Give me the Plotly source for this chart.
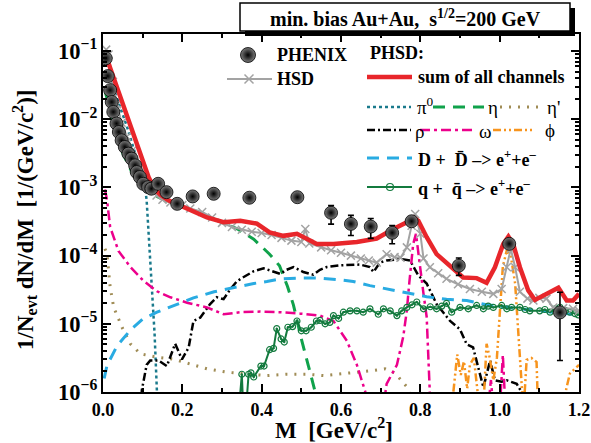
import plotly.graph_objects as go

# ---------------- data ----------------
phenix_x = [0.007, 0.012, 0.018, 0.022, 0.026, 0.034, 0.040, 0.047, 0.055, 0.064, 0.072, 0.081,
            0.085, 0.093, 0.1015, 0.114, 0.122, 0.139, 0.160, 0.187, 0.226, 0.279, 0.369, 0.490,
            0.575, 0.625, 0.675, 0.729, 0.778, 0.897, 1.024, 1.152]
phenix_y = [0.0782, 0.0429, 0.0267, 0.0179, 0.0128, 0.00865, 0.0065, 0.00491, 0.00392, 0.00313,
            0.00264, 0.00211, 0.00168, 0.00142, 0.00113, 0.00101, 0.000957, 0.00113, 0.000853,
            0.000575, 0.000738, 0.000807, 0.000706, 0.000719, 0.000425, 0.000292, 0.000267,
            0.000216, 0.000319, 0.0000713, 0.000149, 0.0000147]
phenix_err_plus = [0]*24 + [1.16e-4, 0.97e-4, 0.83e-4, 0.60e-4, 0, 2.1e-5, 0, 1.43e-5]
phenix_err_minus = [0]*24 + [1.35e-4, 0.95e-4, 0.88e-4, 0.67e-4, 0, 2.0e-5, 0, 1.18e-5]

hsd_x = [0.008, 0.014, 0.025, 0.035, 0.047, 0.060, 0.075, 0.090, 0.100, 0.110, 0.120, 0.135, 0.150,
         0.170, 0.200, 0.220, 0.250, 0.275, 0.300, 0.325, 0.350, 0.375, 0.400, 0.425, 0.450, 0.475,
         0.500, 0.510, 0.520, 0.550, 0.575, 0.600, 0.625, 0.650, 0.670, 0.690, 0.715, 0.735, 0.750,
         0.766, 0.778, 0.787, 0.800, 0.808, 0.824, 0.845, 0.866, 0.895, 0.925, 0.955, 0.984, 1.005,
         1.018, 1.028, 1.039, 1.051, 1.070, 1.085, 1.100, 1.118, 1.135, 1.160, 1.185, 1.200]
hsd_y = [1.05e-1, 8.9e-2, 3.55e-2, 1.66e-2, 8.9e-3, 5.6e-3, 3.55e-3, 2.24e-3, 1.66e-3, 1.2e-3, 9.3e-4,
         7.6e-4, 6.6e-4, 6.0e-4, 5.5e-4, 4.9e-4, 4.37e-4, 3.63e-4, 3.02e-4, 2.63e-4, 2.4e-4, 2.24e-4,
         2.14e-4, 2.0e-4, 1.82e-4, 1.66e-4, 1.585e-4, 2.45e-4, 1.51e-4, 1.32e-4, 1.2e-4, 1.1e-4, 1.0e-4,
         9.1e-5, 8.5e-5, 7.9e-5, 1.05e-4, 9.5e-5, 9.3e-5, 1.32e-4, 2.75e-4, 4.07e-4, 2.09e-4, 9.1e-5,
         6.76e-5, 5.5e-5, 4.57e-5, 3.8e-5, 3.24e-5, 2.95e-5, 2.75e-5, 3.24e-5, 6.76e-5, 1.26e-4, 6.76e-5,
         2.95e-5, 2.34e-5, 2.19e-5, 2.4e-5, 2.34e-5, 1.74e-5, 1.7e-5, 1.66e-5, 1.55e-5]

sum_x = [0.005, 0.060, 0.115, 0.130, 0.144, 0.165, 0.186, 0.220, 0.262, 0.304, 0.346, 0.388, 0.420,
         0.455, 0.489, 0.522, 0.539, 0.581, 0.640, 0.690, 0.715, 0.732, 0.766, 0.782, 0.795, 0.816,
         0.841, 0.875, 0.908, 0.942, 0.967, 0.988, 1.009, 1.022, 1.034, 1.051, 1.072, 1.089, 1.118,
         1.148, 1.169, 1.185, 1.200]
sum_y = [9.3e-2, 1.2e-2, 1.41e-3, 9.5e-4, 7.9e-4, 6.46e-4, 5.75e-4, 4.57e-4, 3.63e-4, 3.09e-4, 3.24e-4,
         2.95e-4, 2.19e-4, 1.95e-4, 2.09e-4, 1.66e-4, 1.48e-4, 1.48e-4, 1.585e-4, 1.78e-4, 2.19e-4,
         2.45e-4, 3.09e-4, 3.63e-4, 3.24e-4, 1.86e-4, 1.05e-4, 7.08e-5, 4.79e-5, 4.68e-5, 3.98e-5,
         6.76e-5, 1.48e-4, 1.905e-4, 1.48e-4, 6.76e-5, 3.09e-5, 2.24e-5, 2.75e-5, 3.39e-5, 2.19e-5,
         2.19e-5, 2.75e-5]

pi0_x = [0.005, 0.030, 0.060, 0.090, 0.105, 0.110, 0.115, 0.123, 0.130, 0.136, 0.138]
pi0_y = [7.9e-2, 2.5e-2, 7.9e-3, 2.24e-3, 1.12e-3, 6.5e-4, 2.1e-4, 3.8e-5, 7.2e-6, 1.0e-6, 5e-7]

eta_x = [0.006, 0.022, 0.050, 0.075, 0.100, 0.130, 0.170, 0.210, 0.250, 0.290, 0.337, 0.380, 0.420,
         0.445, 0.465, 0.480, 0.500, 0.518, 0.535, 0.545]
eta_y = [2.5e-2, 1.07e-2, 3.16e-3, 1.58e-3, 1.0e-3, 7.6e-4, 6.0e-4, 5.0e-4, 4.17e-4, 3.24e-4, 2.5e-4,
         1.74e-4, 1.05e-4, 7.1e-5, 3.55e-5, 1.9e-5, 6.0e-6, 2.4e-6, 1.0e-6, 5e-7]

etap_x = [0.005, 0.010, 0.018, 0.027, 0.048, 0.069, 0.094, 0.136, 0.178, 0.220, 0.262, 0.312, 0.363,
          0.413, 0.463, 0.514, 0.556, 0.623, 0.673, 0.711, 0.736, 0.770, 0.780]
etap_y = [1.26e-4, 1.07e-4, 3.47e-5, 1.74e-5, 8.9e-6, 5.1e-6, 3.63e-6, 3.24e-6, 3.02e-6, 2.57e-6,
          2.19e-6, 1.95e-6, 1.82e-6, 1.74e-6, 1.82e-6, 1.82e-6, 1.74e-6, 1.9e-6, 2.04e-6, 2.19e-6,
          1.9e-6, 1.12e-6, 5e-7]

rho_x = [0.095, 0.098, 0.110, 0.119, 0.140, 0.161, 0.182, 0.199, 0.216, 0.228, 0.245, 0.270, 0.287,
         0.304, 0.320, 0.337, 0.350, 0.380, 0.405, 0.430, 0.447, 0.463, 0.480, 0.505, 0.530, 0.547,
         0.564, 0.598, 0.648, 0.673, 0.682, 0.698, 0.715, 0.753, 0.774, 0.795, 0.816, 0.841, 0.875,
         0.900, 0.917, 0.933, 0.946, 0.959, 0.976, 0.988, 1.005, 1.018, 1.043, 1.055, 1.060]
rho_y = [5e-7, 1.07e-6, 2.5e-6, 2.9e-6, 2.9e-6, 2.4e-6, 5.1e-6, 3.0e-6, 4.5e-6, 1.1e-5, 1.23e-5,
         1.95e-5, 2.45e-5, 2.3e-5, 3.16e-5, 4.17e-5, 4.68e-5, 5.9e-5, 6.5e-5, 5.75e-5, 5.4e-5, 6.2e-5,
         6.8e-5, 5.75e-5, 5.25e-5, 6.2e-5, 6.8e-5, 7.2e-5, 7.4e-5, 6.8e-5, 5.75e-5, 7.9e-5, 8.5e-5,
         8.9e-5, 8.5e-5, 5.1e-5, 3.9e-5, 1.95e-5, 1.1e-5, 8.3e-6, 5.0e-6, 4.5e-6, 2.3e-6, 1.17e-6,
         2.9e-6, 1.48e-6, 1.41e-6, 1.48e-6, 1.32e-6, 1.0e-6, 5e-7]

omega_x = [0.005, 0.010, 0.018, 0.039, 0.069, 0.102, 0.136, 0.170, 0.212, 0.262, 0.304, 0.346, 0.396,
           0.447, 0.497, 0.547, 0.581, 0.615, 0.640, 0.661, 0.670, 0.705, 0.715, 0.741, 0.757, 0.766,
           0.772, 0.782, 0.789, 0.800, 0.808, 0.816, 0.824, 0.826, 0.970, 0.978, 0.985, 1.000, 1.008,
           1.015]
omega_y = [9.3e-4, 6.6e-4, 2.63e-4, 1.17e-4, 6.8e-5, 4.27e-5, 3.0e-5, 2.45e-5, 2.04e-5, 1.74e-5,
           1.38e-5, 1.48e-5, 1.51e-5, 1.48e-5, 1.41e-5, 1.32e-5, 1.1e-5, 5.6e-6, 2.5e-6, 1.02e-6, 5e-7,
           5e-7, 1.32e-6, 2.5e-6, 6.5e-6, 1.58e-5, 3.9e-5, 1.48e-4, 2.09e-4, 6.0e-5, 2.75e-5, 1.26e-5,
           1.0e-6, 5e-7, 5e-7, 1.5e-6, 5e-7, 5e-7, 3.5e-6, 5e-7]

phi_x = [0.878, 0.885, 0.893, 0.902, 0.910, 0.918, 0.925, 0.935, 0.950, 0.960, 0.967, 0.975, 0.984,
         0.993, 1.001, 1.008, 1.018, 1.028, 1.039, 1.047, 1.055, 1.060, 1.068, 1.080, 1.093, 1.097,
         1.160, 1.168, 1.177, 1.194, 1.200]
phi_y = [5e-7, 1.17e-6, 3.55e-6, 1.78e-6, 2.82e-6, 1.12e-6, 2.51e-6, 3.16e-6, 5e-7, 7.9e-7, 5.1e-6,
         3.16e-6, 1.48e-6, 3.16e-6, 2.0e-5, 6.9e-5, 1.2e-4, 1.0e-4, 3.9e-5, 5.75e-6, 1.0e-6, 5e-7,
         2.95e-6, 3.16e-6, 2.75e-6, 5e-7, 5e-7, 1.12e-6, 1.86e-6, 2.29e-6, 2.5e-6]

dd_x = [0.003, 0.010, 0.035, 0.069, 0.100, 0.136, 0.180, 0.228, 0.280, 0.329, 0.380, 0.413, 0.450,
        0.500, 0.547, 0.589, 0.631, 0.673, 0.715, 0.766, 0.816, 0.866, 0.917, 0.967, 1.018, 1.068,
        1.118, 1.169, 1.200]
dd_y = [1.58e-6, 2.45e-6, 4.7e-6, 8.1e-6, 1.17e-5, 1.48e-5, 1.86e-5, 2.4e-5, 2.95e-5, 3.39e-5, 3.9e-5,
        4.17e-5, 4.57e-5, 4.68e-5, 4.68e-5, 4.47e-5, 4.17e-5, 3.63e-5, 3.24e-5, 2.88e-5, 2.5e-5,
        2.29e-5, 2.19e-5, 1.9e-5, 1.74e-5, 1.62e-5, 1.51e-5, 1.41e-5, 1.35e-5]

qgp_x = [0.342, 0.350, 0.354, 0.360, 0.367, 0.373, 0.380, 0.398, 0.406, 0.420, 0.430, 0.438, 0.449,
         0.457, 0.466, 0.478, 0.489, 0.500, 0.512, 0.525, 0.538, 0.547, 0.560, 0.572, 0.581, 0.594,
         0.606, 0.623, 0.640, 0.656, 0.673, 0.694, 0.707, 0.724, 0.741, 0.753, 0.766, 0.779, 0.791,
         0.808, 0.825, 0.841, 0.854, 0.866, 0.879, 0.900, 0.921, 0.942, 0.959, 0.971, 0.984, 1.005,
         1.018, 1.030, 1.051, 1.064, 1.076, 1.101, 1.114, 1.127, 1.140, 1.152, 1.165, 1.177, 1.190,
         1.198]
qgp_y = [5e-7, 1.82e-6, 5e-7, 5e-7, 1.82e-6, 1.91e-6, 1.66e-6, 2.4e-6, 2.4e-6, 4.17e-6, 4.37e-6,
         8.5e-6, 6.0e-6, 5.4e-6, 8.9e-6, 9.1e-6, 1.1e-5, 7.9e-6, 7.9e-6, 8.9e-6, 1.1e-5, 1.12e-5,
         1.0e-5, 1.05e-5, 1.32e-5, 1.2e-5, 1.48e-5, 1.55e-5, 1.55e-5, 1.48e-5, 1.66e-5, 1.38e-5,
         1.66e-5, 1.55e-5, 1.32e-5, 1.55e-5, 1.74e-5, 1.9e-5, 2.09e-5, 1.66e-5, 1.78e-5, 1.66e-5,
         1.82e-5, 2.0e-5, 1.48e-5, 1.74e-5, 1.66e-5, 1.86e-5, 1.66e-5, 1.82e-5, 1.74e-5, 1.86e-5,
         1.66e-5, 1.74e-5, 1.74e-5, 1.62e-5, 1.55e-5, 1.55e-5, 1.62e-5, 1.48e-5, 1.66e-5, 1.74e-5,
         1.58e-5, 1.48e-5, 1.41e-5, 1.35e-5]

x_tick_vals = [0.0, 0.2, 0.4, 0.6, 0.8, 1.0, 1.2]

# ---------------- styles ----------------
FONT = "Liberation Serif, Times New Roman, serif"
C_RED = "#e8262b"
C_GREY = "#a3a3a3"
C_PI0 = "#1a7a8c"
C_ETA = "#10a24b"
C_ETAP = "#a08c55"
C_RHO = "#000000"
C_OMEGA = "#ec008c"
C_PHI = "#f7941d"
C_DD = "#29abe2"
C_QGP = "#137a3e"

DASH_PI0 = "3px,3px"
DASH_ETA = "12px,8px"
DASH_ETAP = "2px,7px"
DASH_RHO = "8px,3px,2px,3px"
DASH_OMEGA = "10px,4px,3px,4px"
DASH_PHI = "8px,3px,2px,3px,2px,3px"
DASH_DD = "12px,8px"

W, H = 591, 443
L, R, T, B = 103, 12, 34, 51
PW = W - L - R
PH = H - T - B


def u(px):
    return (px - L) / PW


def v(py):
    return (H - B - py) / PH


fig = go.Figure()


def comp(x, y, color, dash, width=2.5):
    fig.add_trace(go.Scatter(x=x, y=y, mode="lines",
                             line=dict(color=color, dash=dash, width=width),
                             showlegend=False, hoverinfo="skip"))


comp(etap_x, etap_y, C_ETAP, DASH_ETAP, 3)
comp(pi0_x, pi0_y, C_PI0, DASH_PI0, 2.5)
comp(eta_x, eta_y, C_ETA, DASH_ETA, 3)
comp(rho_x, rho_y, C_RHO, DASH_RHO, 2.5)
comp(omega_x, omega_y, C_OMEGA, DASH_OMEGA, 2.5)
comp(phi_x, phi_y, C_PHI, DASH_PHI, 2.5)
comp(dd_x, dd_y, C_DD, DASH_DD, 3)

fig.add_trace(go.Scatter(x=qgp_x, y=qgp_y, mode="lines+markers",
                         line=dict(color=C_QGP, width=2),
                         marker=dict(symbol="circle-open-dot", size=6, color=C_QGP,
                                     line=dict(width=1.2, color=C_QGP)),
                         showlegend=False, hoverinfo="skip"))

fig.add_trace(go.Scatter(x=hsd_x, y=hsd_y, mode="lines+markers",
                         line=dict(color=C_GREY, width=2),
                         marker=dict(symbol="x-thin", size=8, color=C_GREY,
                                     line=dict(width=1.5, color=C_GREY)),
                         showlegend=False, hoverinfo="skip"))

fig.add_trace(go.Scatter(x=sum_x, y=sum_y, mode="lines", line=dict(color=C_RED, width=4.5),
                         showlegend=False, hoverinfo="skip"))

SPHERE = dict(symbol="circle", size=13, color="#7c7c7c",
              gradient=dict(type="radial", color="#000000"),
              line=dict(width=0.8, color="#000000"))

fig.add_trace(go.Scatter(x=phenix_x, y=phenix_y, mode="markers", marker=SPHERE,
                         error_y=dict(type="data", symmetric=False, array=phenix_err_plus,
                                      arrayminus=phenix_err_minus, color="black",
                                      thickness=1.6, width=3),
                         showlegend=False, hoverinfo="skip"))

# ---------------- legend (drawn inside the plot, overlay axes 0..1) ----------------


def leg_line(x0, x1, y, color, dash="solid", width=2.5, marker=None, mx=None):
    fig.add_trace(go.Scatter(x=[u(x0), u(x1)], y=[v(y), v(y)], mode="lines",
                             line=dict(color=color, dash=dash, width=width),
                             xaxis="x2", yaxis="y2", showlegend=False, hoverinfo="skip"))
    if marker is not None:
        fig.add_trace(go.Scatter(x=[u(mx)], y=[v(y)], mode="markers", marker=marker,
                                 xaxis="x2", yaxis="y2", showlegend=False, hoverinfo="skip"))


annotations = []


def txt(x, y, s, size=18, weight="bold", anchor="left"):
    annotations.append(dict(x=u(x), y=v(y), xref="paper", yref="paper", text=s, showarrow=False,
                            xanchor=anchor, yanchor="middle",
                            font=dict(family=FONT, size=size, color="black", weight=weight)))


# PHENIX / HSD
fig.add_trace(go.Scatter(x=[u(248)], y=[v(55)], mode="markers",
                         marker=dict(SPHERE, size=15), xaxis="x2", yaxis="y2",
                         showlegend=False, hoverinfo="skip"))
txt(275, 55, "PHENIX")
leg_line(227, 272, 79, C_GREY, "solid", 2,
         marker=dict(symbol="x-thin", size=9, color=C_GREY, line=dict(width=1.5, color=C_GREY)),
         mx=249)
txt(275, 79, "HSD")

# PHSD block
txt(368, 53, "PHSD:")
leg_line(367, 412, 77, C_RED, "solid", 4.5)
txt(416, 77, "sum of all channels")

leg_line(367, 411, 107, C_PI0, DASH_PI0, 2.5)
txt(415, 106, "π<sup>0</sup>", size=19, weight="normal")
leg_line(433, 484, 107, C_ETA, DASH_ETA, 3)
txt(486, 108, "η", size=19, weight="normal")
leg_line(500, 538, 107, C_ETAP, DASH_ETAP, 3)
txt(545, 107, "η'", size=19, weight="normal")

leg_line(367, 411, 130, C_RHO, DASH_RHO, 2.5)
txt(413, 131, "ρ", size=19, weight="normal")
leg_line(420, 473, 130, C_OMEGA, DASH_OMEGA, 2.5)
txt(477, 131, "ω", size=19, weight="normal")
leg_line(493, 533, 130, C_PHI, DASH_PHI, 2.5)
txt(543, 130, "ϕ", size=19, weight="normal")

leg_line(367, 412, 158, C_DD, DASH_DD, 3)
txt(416, 158, "D +  D\u0304 \u2013> e<sup>+</sup>+e<sup>\u2013</sup>")

leg_line(367, 412, 187, C_QGP, "solid", 2,
         marker=dict(symbol="circle-open-dot", size=7, color=C_QGP, line=dict(width=1.2, color=C_QGP)),
         mx=390)
txt(416, 187, "q +  q\u0304 \u2013> e<sup>+</sup>+e<sup>\u2013</sup>")

# title box
shapes = [
    dict(type="rect", xref="paper", yref="paper", x0=u(245), x1=u(575), y0=v(36), y1=v(8),
         fillcolor="black", line=dict(width=0), layer="above"),
    dict(type="rect", xref="paper", yref="paper", x0=u(240), x1=u(570), y0=v(31), y1=v(3),
         fillcolor="white", line=dict(width=1.5, color="black"), layer="above"),
]
annotations.append(dict(x=u(405), y=v(18), xref="paper", yref="paper",
                        text="min. bias Au+Au,  s<sup>1/2</sup>=200 GeV", showarrow=False,
                        xanchor="center", yanchor="middle",
                        font=dict(family=FONT, size=20, color="black", weight="bold")))

# axis titles
annotations.append(dict(x=u(334), y=v(428), xref="paper", yref="paper",
                        text="M  [GeV/c<sup>2</sup>]", showarrow=False,
                        xanchor="center", yanchor="middle",
                        font=dict(family=FONT, size=23, color="black", weight="bold")))
annotations.append(dict(x=u(25), y=v(220), xref="paper", yref="paper",
                        text="1/N<sub>evt</sub> dN/dM  [1/(GeV/c<sup>2</sup>)]", showarrow=False,
                        textangle=-90, xanchor="center", yanchor="middle",
                        font=dict(family=FONT, size=23, color="black", weight="bold")))

fig.update_layout(
    width=W, height=H,
    margin=dict(l=L, r=R, t=T, b=B, autoexpand=False),
    paper_bgcolor="white", plot_bgcolor="white",
    showlegend=False,
    shapes=shapes,
    annotations=annotations,
    xaxis=dict(range=[0, 1.2], tickvals=x_tick_vals, tickformat=".1f",
               showgrid=False, zeroline=False, showline=True, linecolor="black", linewidth=2,
               mirror="ticks", ticks="inside", ticklen=8, tickwidth=2, tickcolor="black",
               minor=dict(dtick=0.1, tick0=0, ticks="inside", ticklen=4, tickwidth=1.5,
                          tickcolor="black", showgrid=False),
               tickfont=dict(family=FONT, size=18, color="black", weight="bold")),
    yaxis=dict(type="log", range=[-6, -0.75], dtick=1, exponentformat="power",
               showgrid=False, zeroline=False, showline=True, linecolor="black", linewidth=2,
               mirror="ticks", ticks="inside", ticklen=8, tickwidth=2, tickcolor="black",
               minor=dict(dtick="D1", ticks="inside", ticklen=4, tickwidth=1.5,
                          tickcolor="black", showgrid=False),
               tickfont=dict(family=FONT, size=18, color="black", weight="bold")),
    xaxis2=dict(overlaying="x", range=[0, 1], visible=False, anchor="y2"),
    yaxis2=dict(overlaying="y", range=[0, 1], visible=False, anchor="x2"),
)

fig.write_html("out.html", config={"displayModeBar": False},
               post_script="document.body.style.margin='0';document.body.style.overflow='hidden';")
